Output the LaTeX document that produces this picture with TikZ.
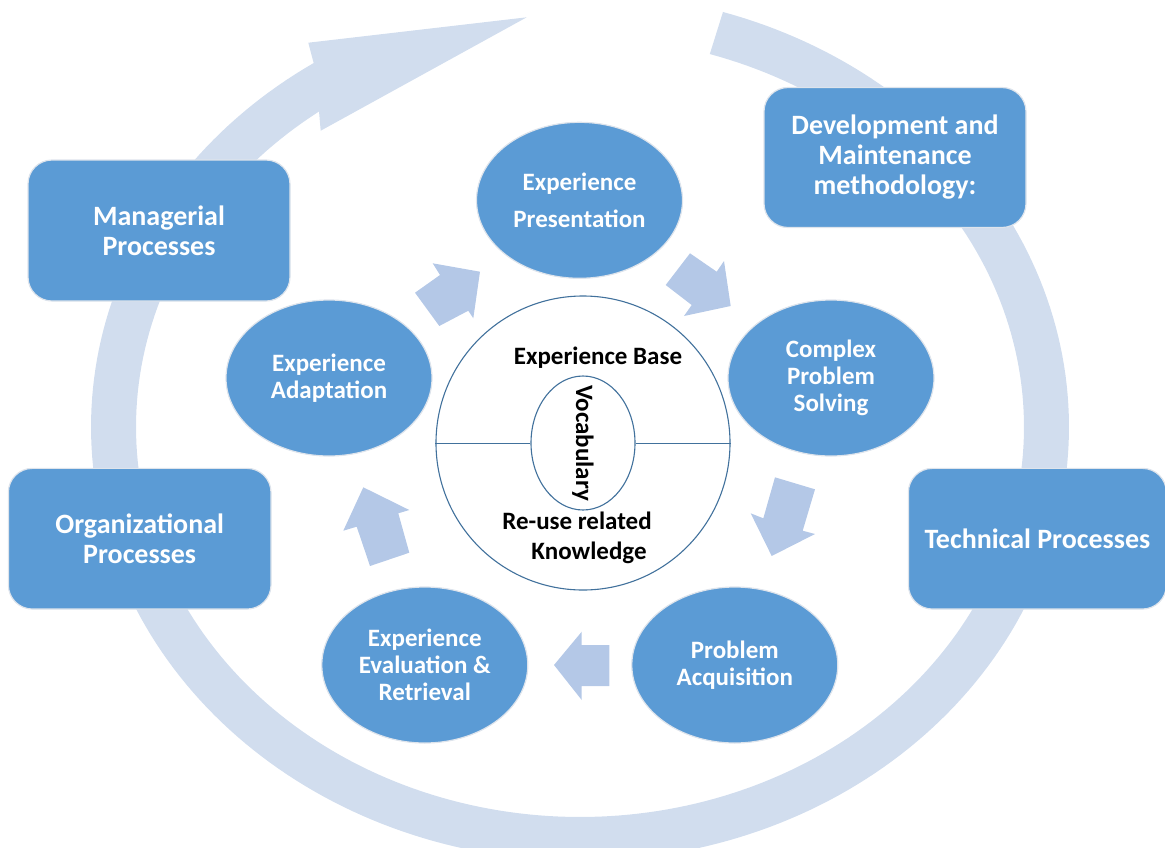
\documentclass[tikz,border=0pt]{standalone}
\usepackage{fontspec}
\setmainfont{Carlito}
\usetikzlibrary{shapes.geometric}
\definecolor{boxblue}{RGB}{91,155,213}
\definecolor{ringc}{RGB}{209,221,238}
\definecolor{arrc}{RGB}{180,200,231}
\definecolor{circc}{RGB}{65,113,156}
\definecolor{edgec}{RGB}{222,228,236}
\begin{document}
\begin{tikzpicture}[x=1pt,y=-1pt,
  boxstyle/.style={rectangle, draw=edgec, line width=1.2pt, fill=boxblue, rounded corners=24pt,
    text=white, font=\fontsize{28}{30}\selectfont\bfseries, align=center, inner sep=0pt},
  ellstyle/.style={ellipse, draw=edgec, line width=1.2pt, fill=boxblue, text=white,
    font=\fontsize{25}{27}\selectfont\bfseries, align=center,
    minimum width=206pt, minimum height=156pt, inner sep=0pt},
  blockarrow/.style={fill=arrc},
  basetext/.style={text=black, font=\fontsize{25}{30}\selectfont\bfseries, align=center, inner sep=0pt}]
\useasboundingbox (0,0) rectangle (1165,847);
\clip (0,0) rectangle (1165,847);

% big circular arrow
\fill[ringc] plot[domain=-73:237, samples=240, variable=\t] ({580+489*cos(\t)}, {427+434*sin(\t)})
  -- (308.3,42.7) -- (526.7,17.3) -- (320.7,130.7)
  -- plot[domain=0:307, samples=240, variable=\t] ({580+444*cos(234-\t)}, {427+390*sin(234-\t)})
  -- cycle;

% outer process boxes
\node[boxstyle, minimum width=262pt, minimum height=141pt] (mgr) at (159,230.5) {Managerial\\Processes};
\node[boxstyle, minimum width=262pt, minimum height=140pt] (dev) at (895,157.5) {Development and\\Maintenance\\methodology:};
\node[boxstyle, minimum width=262.6pt, minimum height=140.7pt] (org) at (139.7,538.7) {Organizational\\Processes};
\node[boxstyle, minimum width=258pt, minimum height=140.7pt] (tech) at (1037.4,538.7) {Technical Processes};

% inner cycle ellipses
\node[ellstyle, font=\fontsize{25}{37}\selectfont\bfseries] (pres) at (579.5,200.3) {Experience\\Presentation};
\node[ellstyle] (cps) at (831,378) {Complex\\Problem\\Solving};
\node[ellstyle] (acq) at (734.8,665) {Problem\\Acquisition};
\node[ellstyle] (eval) at (424.8,665) {Experience\\Evaluation \&\\Retrieval};
\node[ellstyle] (adapt) at (329,378) {Experience\\Adaptation};

% block arrows between ellipses
\fill[blockarrow] (415,292.7) -- (440,275) -- (432.7,263.3) -- (480,271.7) -- (473.3,318.3) -- (468.3,310.7) -- (439.3,326) -- cycle;
\fill[blockarrow] (690,253.3) -- (716.7,271.7) -- (724,261) -- (730.7,306) -- (684,316) -- (691.7,305) -- (665.7,285) -- cycle;
\fill[blockarrow] (775,477.3) -- (815,489.3) -- (802.7,530.7) -- (815,534) -- (771.7,556) -- (750.7,513.3) -- (763.3,518.3) -- cycle;
\fill[blockarrow] (554,665) -- (581.7,631.7) -- (581.7,645) -- (609.3,645) -- (609.3,686) -- (581.7,686) -- (581.7,700) -- cycle;
\fill[blockarrow] (363.3,487.3) -- (409.3,510) -- (398.3,513.3) -- (409.3,552.7) -- (370,566) -- (356.7,526.7) -- (343.3,530.7) -- cycle;

% experience base
\node[circle, draw=circc, line width=1.1pt, fill=white, minimum size=294pt, inner sep=0pt] (eb) at (583,443) {};
\node[ellipse, draw=circc, line width=1.1pt, minimum width=104pt, minimum height=134pt, inner sep=0pt] (voc) at (583,443) {};
\draw[circc, line width=0.8pt] (eb.west) -- (voc.west);
\draw[circc, line width=0.8pt] (voc.east) -- (eb.east);
\node[basetext, rotate=-90] (voct) at (583,443) {Vocabulary};
\node[basetext] (ebt) at (598,358) {Experience Base};
\node[basetext] (rk) at (577,538) {Re-use related\\\hspace*{24pt}Knowledge};
\end{tikzpicture}
\end{document}
